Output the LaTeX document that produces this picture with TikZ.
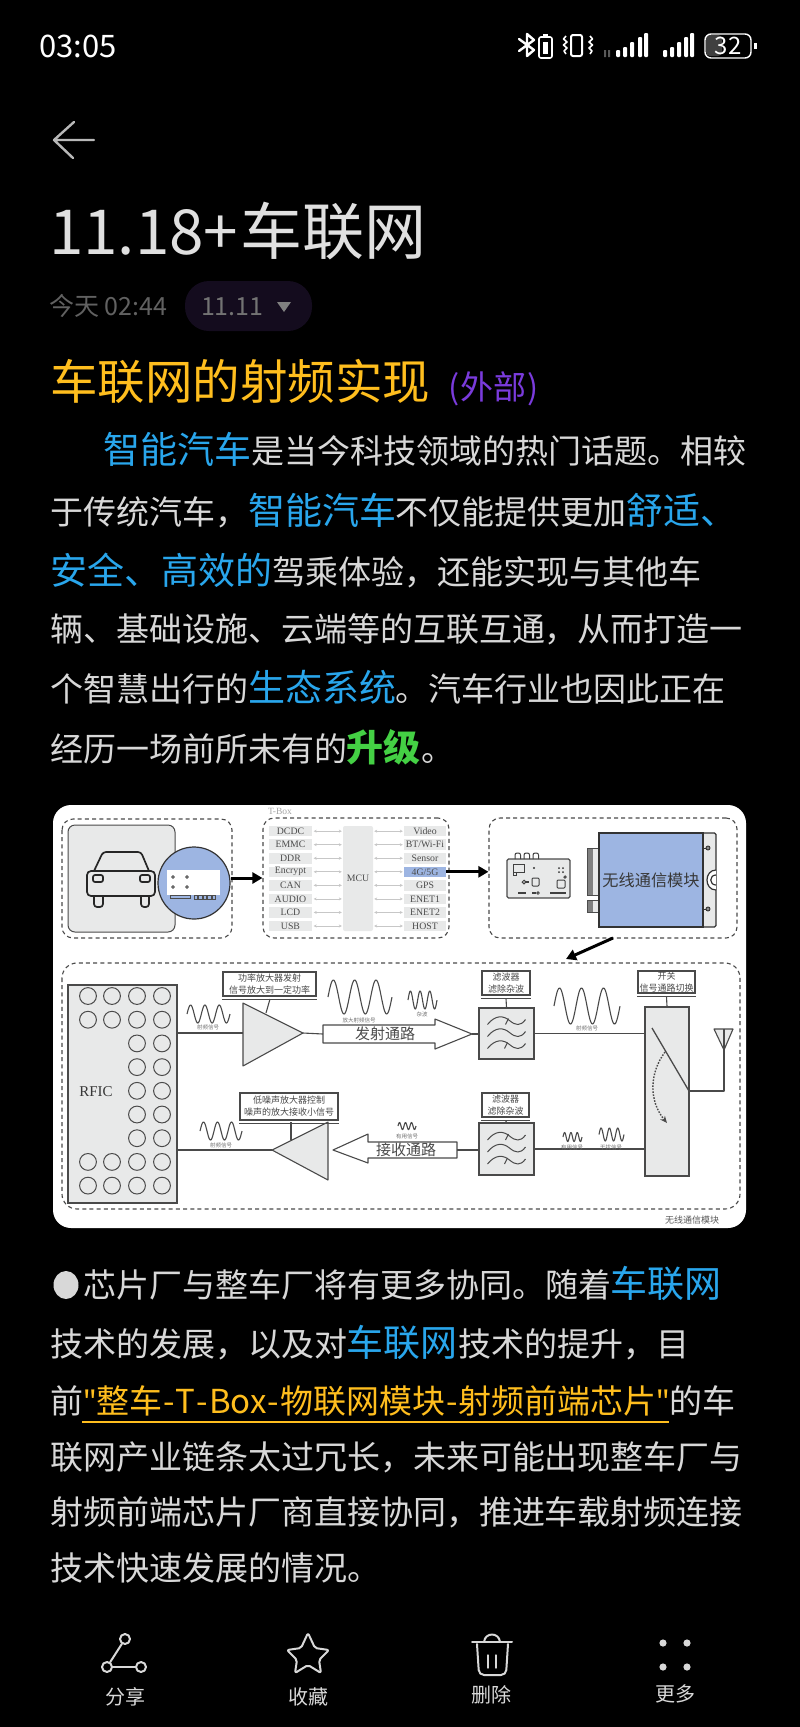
\documentclass[tikz,border=0pt]{standalone}
\usepackage{fontspec}
\setmainfont{Noto Sans CJK SC}
\newfontfamily\ser{Liberation Serif}
\newfontfamily\la{Noto Sans}
\usetikzlibrary{arrows.meta}
\newcommand\fs[1]{\fontsize{#1pt}{#1pt}\selectfont}
\newcommand\fsl[2]{\fontsize{#1pt}{#2pt}\selectfont}
\newcommand\slh{/}
\newcommand\hy{\hspace{1pt}-\hspace{1pt}}
\definecolor{bodytxt}{HTML}{D8D8D8}
\definecolor{tblue}{HTML}{29A6EC}
\definecolor{tgreen}{HTML}{44D044}
\definecolor{torange}{HTML}{FFBE1E}
\definecolor{tpurple}{HTML}{7A3BDC}
\definecolor{modblue}{HTML}{9DB5E2}
\definecolor{cellgray}{HTML}{E8E9E9}
\definecolor{ink}{HTML}{4A4A4A}
\definecolor{pillbg}{HTML}{140C1E}
\newcommand\bodyc[1]{\textcolor{tblue}{\fs{37}#1}}
\tikzset{
  ln/.style={inner sep=0pt,outer sep=0pt,anchor=base west,text=bodytxt,font=\fs{33}},
  dashbox/.style={draw=ink,line width=1.1pt,dash pattern=on 4pt off 3.2pt,rounded corners=11pt},
  cell/.style={inner sep=0pt,font=\ser\fs{9.8},text=black!70},
  comp/.style={draw=ink,fill=cellgray,line width=1.4pt,inner sep=0pt},
  labbox/.style={draw=ink,fill=white,line width=1.1pt,inner sep=0pt,align=center,font=\fsl{9}{12},text=ink},
  sig/.style={draw=ink,line width=1.1pt},
  fat/.style={draw=black,line width=3pt,-{Triangle[length=10pt,width=11pt]}},
  tinyarr/.style={draw=black!22,line width=.7pt,{Stealth[length=3pt,width=3pt]}-{Stealth[length=3pt,width=3pt]}},
  tiny/.style={inner sep=0pt,font=\fs{5.5},text=black!55},
  ico/.style={draw=bodytxt,line width=2pt,line cap=round,line join=round},
  barlab/.style={inner sep=0pt,font=\fs{20},text=bodytxt},
  wv/.style={draw=ink,line width=1.1pt,line join=round},
  stat/.style={fill=white,rounded corners=1pt}
}
\newcommand\nbx[7][]{%
  \pgfmathsetmacro\bxw{#5-#3}\pgfmathsetmacro\bxh{#6-#4}%
  \pgfmathsetmacro\bxx{(#3+#5)/2}\pgfmathsetmacro\bxy{(#4+#6)/2}%
  \node[rectangle,minimum width=\bxw pt,minimum height=\bxh pt,#1] (#2) at (\bxx,\bxy) {#7};%
}
% x1,x2,ymid,amp,cycles
\newcommand\wave[5]{\draw[wv,domain=0:1,samples=90,smooth,variable=\t] plot ({#1+(#2-#1)*\t},{#3-#4*sin(360*#5*\t)});}
\newcommand\filtwaves[1]{%
 \begin{scope}[shift={(#1)}]
 \foreach \dy in {-12,0,12}{
  \draw[wv,line width=1pt,shift={(0,\dy)}] (-19,3) .. controls (-11,-7) and (-3,-6) .. (3,-1) .. controls (9,4) and (14,5) .. (19,-2);
 }
 \draw[wv,line width=1pt] (-1,-9) -- (2,-15) (-2,15) -- (1,9);
 \end{scope}}
\begin{document}
\begin{tikzpicture}[x=1pt,y=-1pt]
\useasboundingbox (0,0) rectangle (800,1727);
\fill[black] (0,0) rectangle (800,1727);

% status bar
\node[ln,text=white,font=\fs{31}] (clock) at (39,57) {03:05};
\draw[draw=white,line width=2.4pt,line join=round,line cap=round] (519,39) -- (534,50) -- (527,56) -- (527,34) -- (534,40) -- (519,51);
\draw[white,line width=1.6pt,rounded corners=2pt] (539,37) rectangle (552,58);
\fill[white] (543,33.5) rectangle (548,35.5);
\fill[white] (543,42) rectangle (548,54);
\draw[white,line width=2pt,rounded corners=2pt] (571,35) rectangle (582,56);
\draw[white,line width=1.6pt,line join=round] (566,36) -- (563.5,39) -- (567,42) -- (563.5,45) -- (567,48) -- (564,51) -- (566,54) (590,36) -- (592.5,39) -- (589,42) -- (592.5,45) -- (589,48) -- (592,51) -- (590,54);
\fill[white!35!black] (604,50) rectangle (606,57) (608,50) rectangle (610,57);
\foreach \x/\h in {618/7,625/10,632/15,640/20,646/24}{\fill[stat] (\x-2,57) rectangle (\x+2,57-\h);}
\foreach \x/\h in {665/7,672/10,679/15,686/20,692/24}{\fill[stat] (\x-2,57) rectangle (\x+2,57-\h);}
\fill[black!75,rounded corners=4pt] (706,35) rectangle (722,56);
\draw[white,line width=1.4pt,rounded corners=6pt] (705,34) rectangle (751,58);
\fill[white] (754,43) rectangle (757,49);
\node[inner sep=0pt,text=white,font=\fs{24}] (batt) at (728,45.5) {32};

% back arrow
\draw[draw=black!28,line width=2.4pt,line join=round,line cap=round] (74,122) -- (54,140) -- (94,140) (54,140) -- (73,158);

% title block
\node[ln,text=black!12,font=\fs{62}] (title) at (49,254) {11.18+\hspace{2pt}车联网};
\node[ln,text=black!62,font=\fs{25}] (date) at (49,315) {今天 02:44};
\fill[pillbg] (185,281) [rounded corners=24pt] rectangle (312,331);
\node[ln,text=black!55,font=\fs{25}] (tag) at (201,315) {11.11};
\fill[black!50,line join=round] (277,302) -- (291,302) -- (284,312) -- cycle;
\node[ln,text=torange,font=\fs{47.5}] (head) at (50,399) {车联网的射频实现};
\node[ln,text=tpurple,font=\fs{33}] (headb) at (448,399) {(\hspace{1pt}外部\hspace{1pt})};

% body 1
\node[ln] (a1) at (103,463.5) {\bodyc{智能汽车}是当今科技领域的热门话题。相较};
\node[ln] (a2) at (50,524.5) {于传统汽车，\bodyc{智能汽车}不仅能提供更加\bodyc{舒适、}};
\node[ln] (a3) at (50,584.5) {\bodyc{安全、高效的}驾乘体验，还能实现与其他车};
\node[ln] (a4) at (50,641.5) {辆、基础设施、云端等的互联互通，从而打造一};
\node[ln] (a5) at (50,701.5) {个智慧出行的\bodyc{生态系统}。汽车行业也因此正在};
\node[ln] (a6) at (50,761.5) {经历一场前所未有的\textcolor{tgreen}{\fs{37}\bfseries 升级}。};

% white card
\fill[white,rounded corners=18pt] (53,805) rectangle (746,1228);

% car box
\draw[dashbox] (62,819) rectangle (232,938);
\nbx[draw=ink,fill=cellgray,line width=1pt,rounded corners=7pt]{carbg}{68}{825}{175}{932}{}
\begin{scope}[draw=black!85,line width=1.7pt,line join=round]
\draw[rounded corners=4pt] (87,871) rectangle (155,896);
\draw[rounded corners=3pt] (94,871) -- (103,852) -- (141,852) -- (149,871);
\draw[rounded corners=3pt] (94,896) -- (94,907) -- (103,907) -- (103,896);
\draw[rounded corners=3pt] (141,896) -- (141,907) -- (149,907) -- (149,896);
\draw[rounded corners=2pt] (93,875) rectangle (103,882);
\draw[rounded corners=2pt] (140,875) rectangle (150,882);
\end{scope}
\node[circle,draw=black!80,fill=modblue,line width=1.2pt,minimum size=72pt,inner sep=0pt] (ecu) at (194,883) {};
\fill[white] (167,870) rectangle (220,895);
\draw[black!70,line width=.8pt] (170,895) rectangle (190,898);
\foreach \x in {194,198.5,203,207.5,212}{\draw[black!70,line width=.8pt] (\x,895) rectangle (\x+3.5,899);}
\foreach \p in {(173,877),(187,877),(173,887),(187,887)}{\draw[black!80,line width=.8pt] \p circle (1.4pt);}

% T-Box
\node[inner sep=0pt,font=\ser\fs{9.5},text=black!35] (tboxlab) at (280,811) {T-Box};
\nbx[dashbox]{tbox}{263}{818}{449}{938}{}
\nbx[fill=cellgray,inner sep=0pt,rounded corners=2pt,font=\ser\fs{9.8},text=black!70]{mcu}{343}{826}{373}{931}{MCU}
\foreach \t [count=\i] in {DCDC,EMMC,DDR,Encrypt,CAN,AUDIO,LCD,USB}{
  \node[cell,fill=cellgray,minimum width=43pt,minimum height=10.5pt] (l\i) at (290.5,817.6+13.55*\i) {\t};
  \draw[tinyarr] ([xshift=1.5pt]l\i.east) -- ([xshift=-1pt]mcu.west |- l\i);
}
\foreach \t/\c [count=\i] in {Video/cellgray,BT\slh Wi-Fi/cellgray,Sensor/cellgray,4G\slh 5G/modblue,GPS/cellgray,ENET1/cellgray,ENET2/cellgray,HOST/cellgray}{
  \node[cell,fill=\c,minimum width=42pt,minimum height=10.5pt] (r\i) at (425,817.6+13.55*\i) {\t};
  \draw[tinyarr] ([xshift=1pt]mcu.east |- r\i) -- ([xshift=-1pt]r\i.west);
}

% wireless module overview
\nbx[dashbox]{modbox}{489}{818}{737}{938}{}
\coordinate (ecuout) at ([yshift=5pt]ecu.east);
\draw[fat] (ecuout) -- (tbox.west |- ecuout);
\draw[fat] (r4.east) -- (modbox.west |- r4.east);
% pcb
\nbx[draw=ink,fill=cellgray,line width=1.1pt,rounded corners=1.5pt]{pcb}{507}{859}{570}{898}{}
\foreach \x in {515,524,533}{\draw[draw=black!75,line width=1pt,rounded corners=2pt] (\x,859) -- (\x,853) -- (\x+5.5,853) -- (\x+5.5,859);}
\draw[black!75,line width=1pt] (513,864) rectangle (524,872) (513,872) rectangle (516,875);
\fill[black!80] (534,868) circle (1.2pt);
\foreach \p in {(559,868),(563,868),(559,872),(563,872)}{\fill[black!80] \p circle (1pt);}
\draw[black!75,line width=1pt] (524,882) circle (1.8pt);
\fill[black!75] (526,881.2) rectangle (529,882.8);
\draw[black!75,line width=1pt,rounded corners=1pt] (532,878) rectangle (539,886);
\draw[black!75,line width=1pt,rounded corners=1pt] (557,880) rectangle (565,888);
\draw[black!75,line width=.8pt] (565,877) circle (1.2pt);
\fill[black!75] (518,892) rectangle (526,894);
\fill[black!75] (532,892) rectangle (536,894);
\draw[black!75,line width=.8pt] (538,893) circle (1.3pt);
\fill[black!75] (550,892) rectangle (566,894);
% module
\fill[cellgray] (587,848) rectangle (600,895);
\fill[black!50] (587,848) rectangle (593,895);
\draw[black!70,line width=.9pt] (587,848) rectangle (600,895);
\fill[cellgray] (587,900) rectangle (600,912);
\fill[black!50] (587,900) rectangle (593,912);
\draw[black!70,line width=.9pt] (587,900) rectangle (600,912);
\draw[draw=black!80,fill=cellgray,line width=1.2pt,rounded corners=1.5pt] (702,833) rectangle (716,927);
\nbx[draw=black!80,fill=modblue,line width=1.2pt,text=black!78,font=\fs{16.2}]{wmod}{600}{833}{702}{927}{无线通信模块}
\draw[draw=black!80,fill=white,line width=1.2pt] (716,870) .. controls (704,870) and (704,890) .. (716,890);
\draw[draw=black!80,line width=1.2pt] (716,875) .. controls (709,875) and (709,885) .. (716,885);
\draw[black!80,line width=.9pt] (702,848) -- (706,848) (702,909) -- (706,909);
\draw[black!80,line width=.9pt,fill=black!45] (708,848) circle (2pt) (708,909) circle (2pt);
\coordinate (drop) at (613,938);
\coordinate (dropend) at (566,959);
\draw[fat] (drop) -- (dropend);

% detail box
\draw[dashbox,rounded corners=15pt] (62,963) rectangle (740,1209);
\nbx[comp]{rfic}{68}{985}{177}{1203}{}
\node[inner sep=0pt,font=\ser\fs{15},text=black!78] (rficl) at (96,1092) {RFIC};
\foreach \x/\rows in {88/{1,2,8,9},112/{1,2,8,9},137/{1,2,3,4,5,6,7,8,9},162/{1,2,3,4,5,6,7,8,9}}{
  \foreach \r in \rows { \draw[draw=ink,line width=1pt] (\x,972.3+23.7*\r) circle (8.4pt); }
}

% PA
\coordinate (pain) at (243,1033);
\coordinate (paout) at (303,1033);
\draw[comp,line join=round,line width=1.1pt] (243,1003) -- (paout) -- (243,1066) -- cycle;
\draw[sig] (rfic.east |- pain) -- (pain);
\nbx[labbox]{palab}{223}{972}{316}{996}{功率放大器发射\\信号放大到一定功率}
\draw[sig] ([yshift=-2.5pt]palab.south west) -- ([yshift=-2.5pt]palab.south east);
\coordinate (pab) at (266,1013);
\draw[sig] (270,999) -- (pab);
\wave{187}{230}{1014}{9}{3}
\node[tiny] (s1) at (208,1027) {射频信号};
\wave{328}{392}{997}{17}{3}
\node[tiny] (s2) at (359,1020) {放大射频信号};

% TX arrow
\coordinate (txin) at (323,1034);
\coordinate (txtip) at (472,1034);
\draw[draw=ink,fill=white,line width=1.1pt,line join=round] (323,1025) -- (435,1025) -- (435,1019) -- (txtip) -- (435,1049) -- (435,1043) -- (323,1043) -- cycle;
\node[inner sep=0pt,font=\fs{15},text=ink] (txl) at (385,1034) {发射通路};
\draw[sig] (paout) -- (txin);
\wave{408}{437}{1000}{9}{3}
\node[tiny] (s3) at (422,1014) {杂波};

% filter 1
\nbx[comp]{f1}{479}{1008}{534}{1059}{}
\filtwaves{f1.center}
\nbx[labbox]{f1lab}{482}{971}{530}{995}{滤波器\\滤除杂波}
\draw[sig] ([yshift=-2.5pt]f1lab.south west) -- ([yshift=-2.5pt]f1lab.south east);
\draw[sig] ([yshift=-3pt]f1lab.south) -- (f1.north);
\draw[sig] (txtip) -- (f1.west |- txtip);
\wave{554}{620}{1006}{18}{3}
\node[tiny] (s4) at (587,1028) {射频信号};

% switch
\nbx[comp]{sw}{645}{1007}{689}{1176}{}
\draw[sig] (f1.east) -- (sw.west |- f1.east);
\nbx[labbox]{swlab}{638}{971}{695}{993}{开关\\信号通路切换}
\draw[sig] ([yshift=-2.5pt]swlab.south west) -- ([yshift=-2.5pt]swlab.south east);
\draw[sig] ([yshift=-3pt]swlab.south) -- (sw.north);
\coordinate (swpivot) at (689,1091);
\coordinate (swtop) at (652,1028);
\coordinate (swmid) at (665,1052);
\coordinate (swend) at (667,1123);
\draw[sig,line width=1.3pt] (swtop) -- (swpivot);
\draw[draw=ink,line width=1.4pt,dash pattern=on 1.6pt off 1.4pt,-{Stealth[length=7pt,width=6pt]}] (swmid) .. controls (650,1072) and (648,1100) .. (swend);
% antenna
\coordinate (anttip) at (724,1050);
\draw[draw=ink,fill=cellgray,line width=1.1pt,line join=round] (714,1029) -- (733,1029) -- (anttip) -- cycle;
\draw[sig,line join=round] (swpivot) -- (724,1091) -- (724,1029);

% LNA
\coordinate (lnain) at (328,1150);
\coordinate (lnaout) at (272,1150);
\draw[comp,line join=round,line width=1.1pt] (328,1122) -- (lnaout) -- (328,1180) -- cycle;
\draw[sig] (rfic.east |- lnaout) -- (lnaout);
\nbx[labbox]{lnalab}{240}{1093}{338}{1120}{低噪声放大器控制\\噪声的放大接收小信号}
\draw[sig] ([yshift=-2.5pt]lnalab.south west) -- ([yshift=-2.5pt]lnalab.south east);
\coordinate (lnat) at (291,1122);
\coordinate (lnab) at (291,1140);
\draw[sig] (lnat) -- (lnab);
\wave{200}{242}{1131}{9}{3}
\node[tiny] (s5) at (221,1145) {射频信号};

% RX arrow
\coordinate (rxtip) at (333,1150);
\coordinate (rxin) at (457,1150);
\draw[draw=ink,fill=white,line width=1.1pt,line join=round] (rxtip) -- (368,1134) -- (368,1142) -- (457,1142) -- (457,1158) -- (368,1158) -- (368,1163) -- cycle;
\node[inner sep=0pt,font=\fs{15},text=ink] (rxl) at (406,1150) {接收通路};
\wave{398}{416}{1126}{3.5}{3}
\node[tiny] (s6) at (407,1136) {有用信号};

% filter 2
\nbx[comp]{f2}{479}{1123}{534}{1175}{}
\filtwaves{f2.center}
\nbx[labbox]{f2lab}{482}{1093}{529}{1117}{滤波器\\滤除杂波}
\draw[sig] ([yshift=-2.5pt]f2lab.south west) -- ([yshift=-2.5pt]f2lab.south east);
\draw[sig] ([yshift=-3pt]f2lab.south) -- (f2.north);
\draw[sig] (rxin) -- (f2.west |- rxin);
\draw[sig] (f2.east) -- (sw.west |- f2.east);
\wave{563}{582}{1137}{4.5}{3}
\wave{599}{624}{1134.5}{6.5}{3}
\node[tiny] (s7) at (572,1147) {有用信号};
\node[tiny] (s8) at (611,1147) {干扰信号};
\node[inner sep=0pt,font=\fs{9},text=black!65] (modlab) at (692,1220) {无线通信模块};

% body 2
\fill[bodytxt] (66,1285) ellipse (12.5 and 14);
\node[ln] (b1) at (83,1297.5) {芯片厂与整车厂将有更多协同。随着\bodyc{车联网}};
\node[ln] (b2) at (50,1356.5) {技术的发展，以及对\bodyc{车联网}技术的提升，目};
\node[ln] (b3) at (50,1413.5) {前\textcolor{torange}{{\la"}整车\hy T\hy Box\hy 物联网模块\hy 射频前端芯片{\la"}}的车};
\draw[torange,line width=1.2pt] (82,1422) -- (669,1422);
\node[ln] (b4) at (50,1469.5) {联网产业链条太过冗长，未来可能出现整车厂与};
\node[ln] (b5) at (50,1524.5) {射频前端芯片厂商直接协同，推进车载射频连接};
\node[ln] (b6) at (50,1580.5) {技术快速发展的情况。};

% bottom bar
\node[ico,circle,minimum size=10pt,inner sep=0pt] (sa) at (125,1639) {};
\node[ico,circle,minimum size=10pt,inner sep=0pt] (sb) at (107,1667) {};
\node[ico,circle,minimum size=10pt,inner sep=0pt] (sc) at (141,1667) {};
\draw[ico] (sa) -- (sb);
\draw[ico] (sb) -- (sc);
\node[barlab] (t1) at (125,1697) {分享};
\draw[ico,rounded corners=2pt] (308,1633) -- (315,1648) -- (329,1650) -- (319,1660) -- (321,1673) -- (308,1665) -- (295,1673) -- (297,1660) -- (287,1650) -- (301,1648) -- cycle;
\node[barlab] (t2) at (308,1697) {收藏};
\draw[ico] (472,1642) -- (512,1642);
\draw[ico] (484,1642) .. controls (485,1632) and (499,1632) .. (500,1642);
\draw[ico,rounded corners=5pt] (477,1644) -- (479,1675) -- (506,1675) -- (508,1644);
\draw[ico,line width=1.4pt] (488,1655) -- (488,1668) (496,1655) -- (496,1668);
\node[barlab] (t3) at (491,1695) {删除};
\foreach \p in {(663,1643),(687,1643),(663,1667),(687,1667)}{\fill[bodytxt] \p circle (3.6pt);}
\node[barlab] (t4) at (675,1694) {更多};
\end{tikzpicture}
\end{document}
